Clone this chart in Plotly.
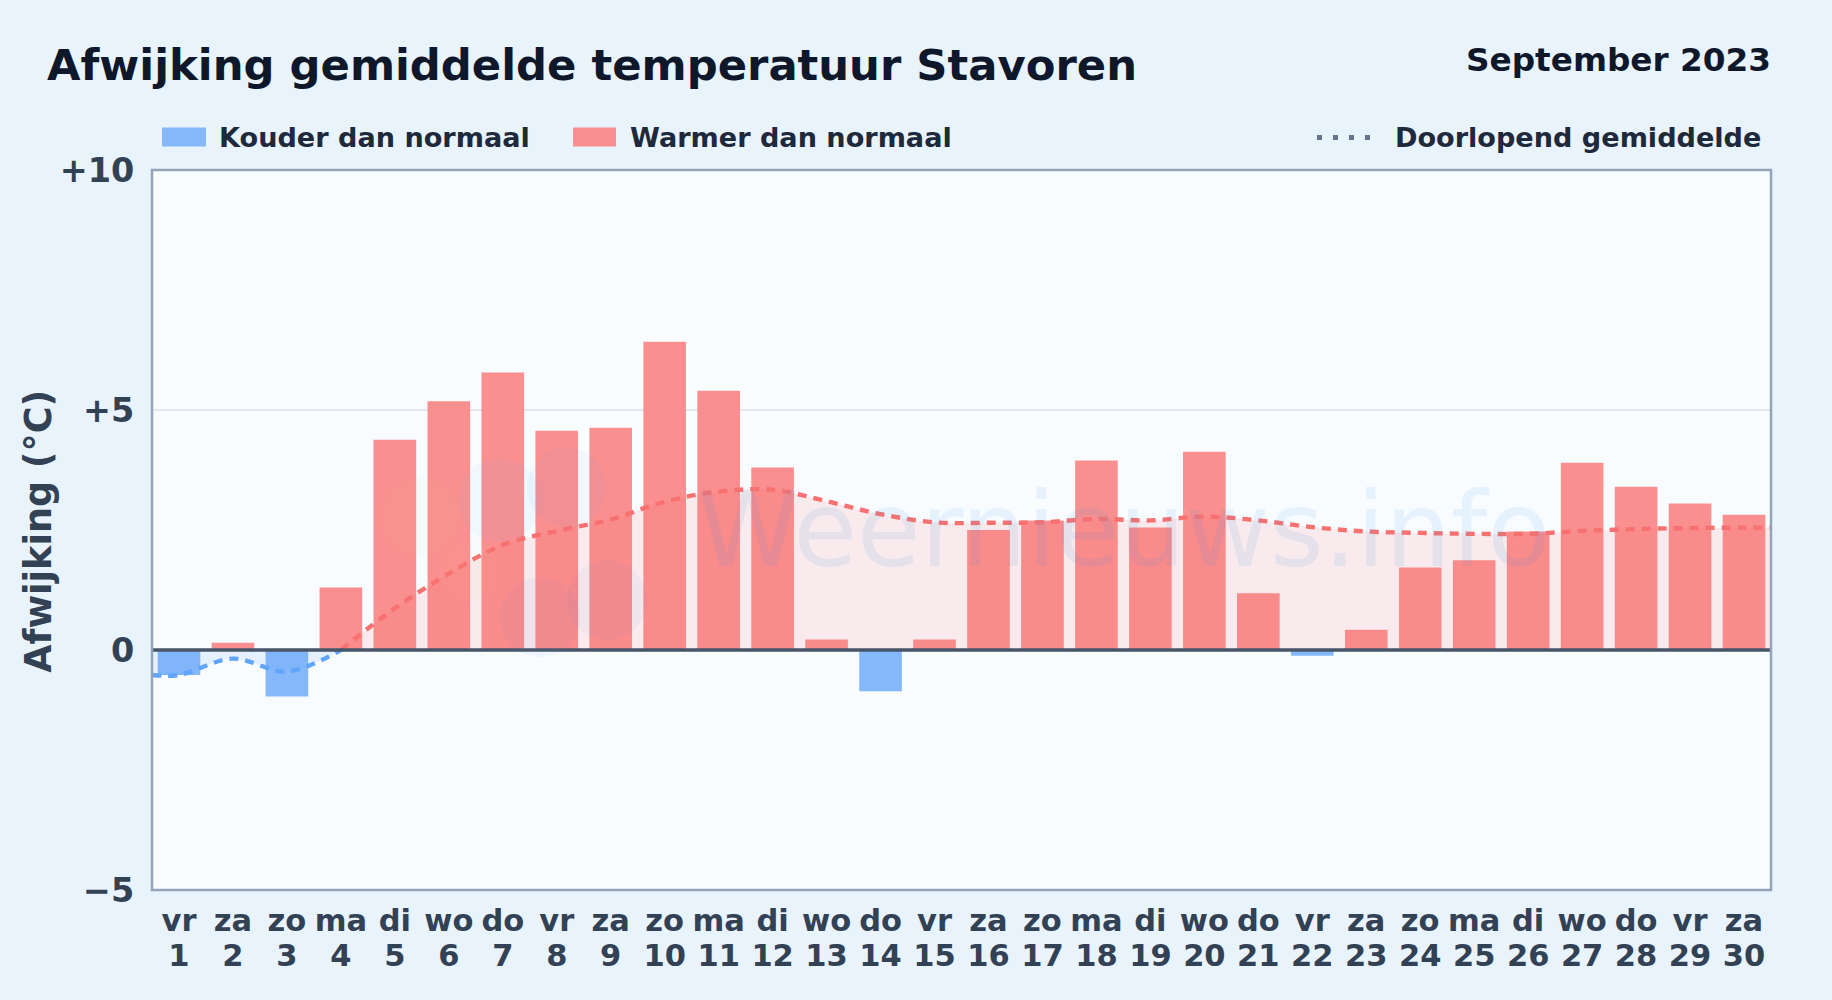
import plotly.graph_objects as go

weekdays = ["vr","za","zo","ma","di","wo","do","vr","za","zo","ma","di","wo","do","vr","za","zo","ma","di","wo","do","vr","za","zo","ma","di","wo","do","vr","za"]
days = list(range(1, 31))
deviation = [-0.52,0.15,-0.97,1.30,4.38,5.18,5.78,4.57,4.63,6.42,5.40,3.80,0.22,-0.86,0.22,2.50,2.70,3.95,2.55,4.13,1.18,-0.12,0.42,1.72,1.87,2.47,3.90,3.40,3.05,2.82]
running_x = [0.5,1,2,3,4,5,6,7,8,9,10,11,12,13,14,15,16,17,18,19,20,21,22,23,24,25,26,27,28,29,30,30.5]
running_y = [-0.52,-0.52,-0.18,-0.45,0.0,0.87,1.59,2.19,2.48,2.72,3.09,3.30,3.34,3.10,2.83,2.66,2.65,2.66,2.73,2.70,2.78,2.70,2.56,2.47,2.44,2.42,2.42,2.48,2.52,2.54,2.55,2.55]
y_ticks = [-5,0,5,10]
y_labels = ["−5","0","+5","+10"]

W, H = 1832, 1000
L, R, T, B = 152.0, 1771.0, 169.5, 890.0
FONT = "DejaVu Sans"
PAPER = "#e8f3fc"
PLOT = "#f8fcff"
RED_BAR = "#fa8f8f"
BLUE_BAR = "#84b8fb"
RED = "#f87171"
BLUE = "#60a5fa"
LINE_W = 4.4
DASH = "9px,7px"

def px(x): return (x - L) / (R - L)
def py(y): return (B - y) / (B - T)

split = running_y.index(0.0)
fig = go.Figure()
fig.add_trace(go.Bar(x=days, y=deviation, width=0.79,
                     marker=dict(color=[BLUE_BAR if v < 0 else RED_BAR for v in deviation], line_width=0),
                     showlegend=False))
common = dict(mode="lines", showlegend=False, hoverinfo="skip")
fig.add_trace(go.Scatter(x=running_x[:split+1], y=running_y[:split+1], fill="tozeroy", fillcolor="rgba(96,165,250,0.12)",
                         line=dict(color=BLUE, width=LINE_W, dash=DASH, shape="spline", smoothing=1.0), **common))
fig.add_trace(go.Scatter(x=running_x[split:], y=running_y[split:], fill="tozeroy", fillcolor="rgba(248,113,113,0.13)",
                         line=dict(color=RED, width=LINE_W, dash=DASH, shape="spline", smoothing=1.0), **common))
# carries the second row of tick labels (day numbers)
fig.add_trace(go.Scatter(x=days, y=[0]*30, xaxis="x2", mode="lines", line=dict(width=0), opacity=0, showlegend=False, hoverinfo="skip"))

shapes = [
    dict(type="line", xref="paper", yref="y", x0=0, x1=1, y0=0, y1=0, line=dict(color="#475569", width=3.5), layer="above"),
    dict(type="rect", xref="paper", yref="paper", x0=0, x1=1, y0=0, y1=1, line=dict(color="#94a3b8", width=2.5), layer="above"),
    dict(type="rect", xref="paper", yref="paper", x0=px(162), x1=px(206), y0=py(146), y1=py(127), fillcolor=BLUE_BAR, line_width=0),
    dict(type="rect", xref="paper", yref="paper", x0=px(573), x1=px(616), y0=py(146), y1=py(127), fillcolor=RED_BAR, line_width=0),
    dict(type="line", xref="paper", yref="paper", x0=px(1317), x1=px(1371), y0=py(137), y1=py(137),
         line=dict(color="#64748b", width=5, dash="5px,11px")),
]
# faint logo of the watermark
logo = [(500,500,42,"rgba(96,165,250,0.06)"),(567,487,40,"rgba(96,165,250,0.05)"),(420,517,40,"rgba(190,220,120,0.04)"),
        (540,617,40,"rgba(96,140,220,0.06)"),(607,600,40,"rgba(96,140,220,0.05)"),(470,570,30,"rgba(250,220,120,0.03)")]
for cx, cy, r, c in logo:
    shapes.append(dict(type="circle", xref="paper", yref="paper", x0=px(cx-r), x1=px(cx+r), y0=py(cy+r), y1=py(cy-r),
                       fillcolor=c, line_width=0, layer="above"))

def note(text, x, y, size, color, anchor="left", bold=True):
    return dict(text=f"<b>{text}</b>" if bold else text, x=px(x), y=py(y), xref="paper", yref="paper", xanchor=anchor, yanchor="middle",
                showarrow=False, font=dict(family=FONT, size=size, color=color))

annotations = [
    note("Afwijking gemiddelde temperatuur Stavoren", 44.5, 64, 43.3, "#0f172a"),
    note("September 2023", 1773, 59, 32.7, "#0f172a", "right"),
    note("Kouder dan normaal", 217, 137, 27.1, "#1e293b"),
    note("Warmer dan normaal", 628, 137, 27.1, "#1e293b"),
    note("Doorlopend gemiddelde", 1393, 137, 27.1, "#1e293b"),
    note("Weernieuws.info", 1124, 530, 103.5, "rgba(68,152,225,0.10)", "center", bold=False),
    dict(note("Afwijking (°C)", 38.5, 531, 36.5, "#334155", "center"), textangle=-90),
]

xtick = dict(tickmode="array", tickvals=days, showgrid=False, zeroline=False, ticks="outside", tickcolor="rgba(0,0,0,0)",
             tickfont=dict(family=FONT, size=30.5, color="#334155", weight="bold"), tickangle=0, showline=False)
fig.update_layout(
    width=W, height=H, autosize=False,
    margin=dict(l=L, r=W-R, t=T, b=H-B),
    paper_bgcolor=PAPER, plot_bgcolor=PLOT,
    font=dict(family=FONT, color="#334155"),
    shapes=shapes, annotations=annotations, bargap=0.2, showlegend=False,
    xaxis=dict(range=[0.5,30.5], ticktext=weekdays, ticklen=3, **xtick),
    xaxis2=dict(range=[0.5,30.5], matches="x", overlaying="x", side="bottom", anchor="y", ticktext=[str(d) for d in days], ticklen=38, **xtick),
    yaxis=dict(range=[-5,10], tickmode="array", tickvals=y_ticks, ticktext=y_labels, showgrid=True, gridcolor="#e2e8f0", gridwidth=1.5,
               zeroline=False, ticks="outside", ticklen=10, tickcolor="rgba(0,0,0,0)", showline=False,
               tickfont=dict(family=FONT, size=33.4, color="#334155", weight="bold")),
)
fig.write_html("out.html", config=dict(displayModeBar=False), post_script="document.body.style.margin='0';document.body.style.overflow='hidden';")
